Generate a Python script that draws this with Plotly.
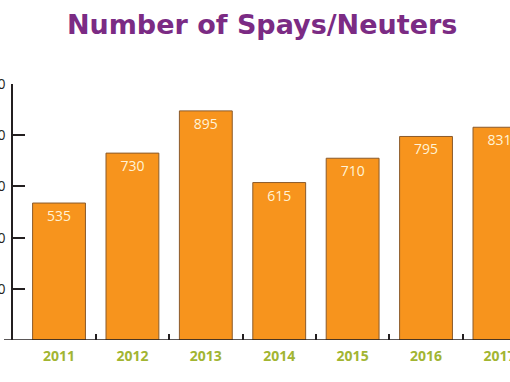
import plotly.graph_objects as go

years = ["2011", "2012", "2013", "2014", "2015", "2016", "2017"]
counts = [535, 730, 895, 615, 710, 795, 831]
y_ticks = [200, 400, 600, 800, 1000]

xpos = list(range(len(years)))

fig = go.Figure()
fig.add_trace(go.Bar(
    x=xpos, y=counts, width=0.72,
    marker=dict(color="#f7941d", line=dict(color="#8a5a2b", width=1)),
    text=[str(c) for c in counts], textposition="inside", insidetextanchor="end",
    textfont=dict(family="Open Sans", size=14, color="#fff3d6"),
    cliponaxis=False, hoverinfo="skip",
))

fig.update_layout(
    width=510, height=382,
    margin=dict(l=13, r=0, t=84, b=42),
    paper_bgcolor="white", plot_bgcolor="white",
    showlegend=False,
    title=dict(text="<b>Number of Spays/Neuters</b>", x=0.514, xanchor="center",
               y=0.937, yanchor="middle",
               font=dict(family="DejaVu Sans", size=27, color="#7b2b84")),
    xaxis=dict(range=[-0.627, 6.144], tickvals=xpos, ticktext=years, ticks="",
               showgrid=False, zeroline=False, showline=False, automargin=False,
               ticklabeloverflow="allow",
               tickfont=dict(family="Open Sans", size=14, color="#a2b532", weight="bold"),
               ticklabelstandoff=6,
               minor=dict(tickvals=[0.5, 1.5, 2.5, 3.5, 4.5, 5.5], ticks="inside",
                          ticklen=6, tickcolor="#231f20", tickwidth=1.5, showgrid=False)),
    yaxis=dict(range=[0, 1000], tickvals=y_ticks, ticks="inside", ticklen=12,
               tickcolor="#231f20", tickwidth=1.5, showline=True, linecolor="#231f20",
               linewidth=1.5, showgrid=False, zeroline=False, automargin=False,
               ticklabeloverflow="allow",
               tickfont=dict(family="Open Sans", size=14, color="#231f20"),
               ticklabelstandoff=3),
    shapes=[dict(type="line", xref="paper", yref="y", x0=-9/497, x1=1, y0=0, y1=0,
                 line=dict(color="#231f20", width=1.5), layer="above")],
)

fig.write_html("out.html", post_script="document.body.style.margin='0';",
               config={"displayModeBar": False})
